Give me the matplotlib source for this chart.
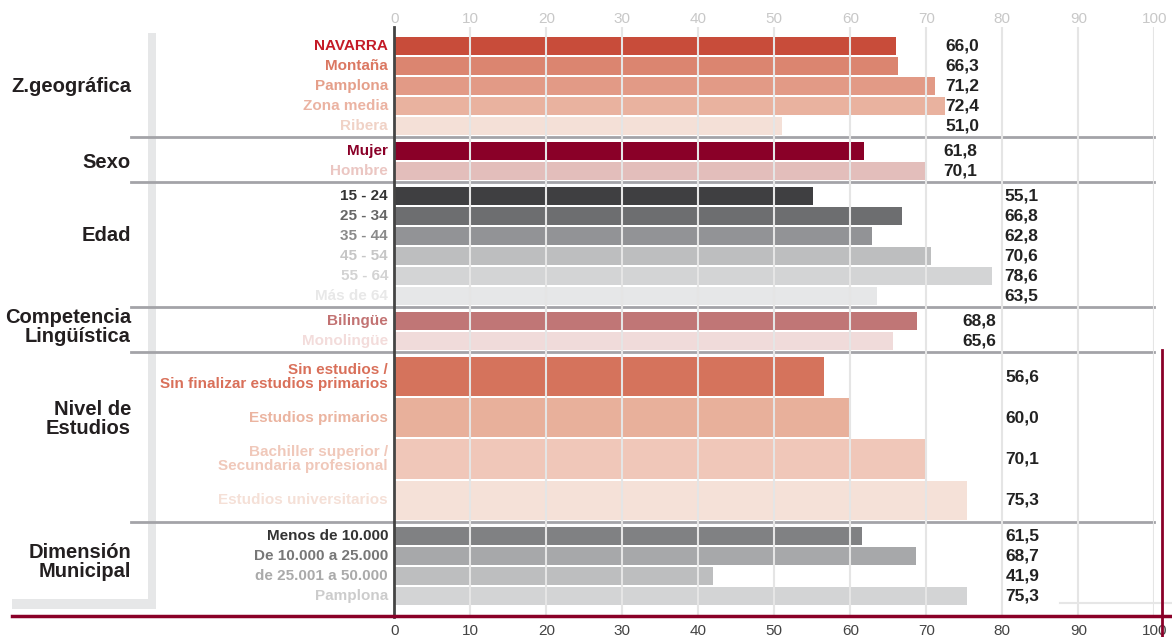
import matplotlib
matplotlib.use('Agg')
import matplotlib.pyplot as plt
from matplotlib import font_manager
from matplotlib.lines import Line2D
from matplotlib.patches import Rectangle
from matplotlib.transforms import blended_transform_factory

names = set(f.name for f in font_manager.fontManager.ttflist)
narrow = 'Liberation Sans Narrow' if 'Liberation Sans Narrow' in names else 'Liberation Sans'
label_size = 13 if narrow == 'Liberation Sans Narrow' else 11
value_size = 13 if narrow == 'Liberation Sans Narrow' else 12.5

# data
zona_labels = ['NAVARRA', 'Montaña', 'Pamplona', 'Zona media', 'Ribera']
zona_values = [66.0, 66.3, 71.2, 72.4, 51.0]
sexo_labels = ['Mujer', 'Hombre']
sexo_values = [61.8, 70.1]
edad_labels = ['15 - 24', '25 - 34', '35 - 44', '45 - 54', '55 - 64', 'Más de 64']
edad_values = [55.1, 66.8, 62.8, 70.6, 78.6, 63.5]
comp_labels = ['Bilingüe', 'Monolingüe']
comp_values = [68.8, 65.6]
estudios_labels = ['Sin estudios /\nSin finalizar estudios primarios', 'Estudios primarios',
                   'Bachiller superior /\nSecundaria profesional', 'Estudios universitarios']
estudios_values = [56.6, 60.0, 70.1, 75.3]
muni_labels = ['Menos de 10.000', 'De 10.000 a 25.000', 'de 25.001 a 50.000', 'Pamplona']
muni_values = [61.5, 68.7, 41.9, 75.3]
group_titles = ['Z.geográfica', 'Sexo', 'Edad', 'Competencia\nLingüística', 'Nivel de\nEstudios',
                'Dimensión\nMunicipal']

# colours
zona_bar = ['#c84c3a', '#db8570', '#e29a86', '#e9b29f', '#f4e0d7']
zona_txt = ['#c41a26', '#db7862', '#e59f8a', '#ebb3a2', '#f0d2c6']
sexo_bar = ['#8a0028', '#e3bebb']
sexo_txt = ['#8a0028', '#ebc6c2']
edad_bar = ['#3f3f41', '#6d6e70', '#929396', '#bdbebf', '#d3d4d5', '#e6e7e8']
edad_txt = ['#333333', '#666666', '#8a8a8a', '#c6c6c6', '#d3d3d3', '#e8e8e8']
comp_bar = ['#c07676', '#f0dbda']
comp_txt = ['#c27272', '#f3dcdb']
estudios_bar = ['#d5735c', '#e8b09b', '#f0c7b9', '#f5e1d8']
estudios_txt = ['#d9705a', '#ebb4a0', '#f0c8ba', '#f5e0d7']
muni_bar = ['#808183', '#a7a8aa', '#bdbebf', '#d3d4d5']
muni_txt = ['#333333', '#777777', '#aaaaaa', '#cccccc']

groups = [
    (zona_labels, zona_values, zona_bar, zona_txt),
    (sexo_labels, sexo_values, sexo_bar, sexo_txt),
    (edad_labels, edad_values, edad_bar, edad_txt),
    (comp_labels, comp_values, comp_bar, comp_txt),
    (estudios_labels, estudios_values, estudios_bar, estudios_txt),
    (muni_labels, muni_values, muni_bar, muni_txt),
]
row_h = [1, 1, 1, 1, 2.06, 1]
value_x = [72.5, 72.2, 80.3, 74.8, 80.4, 80.4]
title_pos = [0.5, 0.55, 0.41, 0.4, 0.38, 0.45]

W, H = 1172, 637
fig = plt.figure(figsize=(W / 100, H / 100), dpi=100)
ax = fig.add_axes([394.3 / W, 20 / H, 760 / W, 590 / H])
ax.set_xlim(0, 100)
ax.set_ylim(29.25, -0.25)

# light grey bracket on the left
fig.add_artist(Rectangle((148 / W, 1 - 609 / H), 8 / W, 576 / H, transform=fig.transFigure,
                         color='#e6e7e8', lw=0, zorder=0))
fig.add_artist(Rectangle((12 / W, 1 - 609 / H), 144 / W, 10 / H, transform=fig.transFigure,
                         color='#e6e7e8', lw=0, zorder=0))

title_tr = blended_transform_factory(fig.transFigure, ax.transData)

y = 0.0
for g, (labels, values, bars, txts) in enumerate(groups):
    h = row_h[g]
    y += 0.2
    start = y
    ys = [y + h * (i + 0.5) for i in range(len(values))]
    ax.barh(ys, values, height=h - 0.1, color=bars, zorder=2)
    for yy, lab, v, c in zip(ys, labels, values, txts):
        ax.annotate(lab, (0, yy), xytext=(-4.5, 0), textcoords='offset points', ha='right',
                    va='center', color=c, fontsize=label_size, fontweight='bold', family=narrow,
                    linespacing=1.0, annotation_clip=False)
        ax.text(value_x[g], yy, ('%.1f' % v).replace('.', ','), ha='left', va='center',
                color='#222222', fontsize=value_size, fontweight='bold', family=narrow, zorder=4)
    y += h * len(values)
    ax.text(131 / W, start + title_pos[g] * (y - start), group_titles[g], transform=title_tr,
            ha='right', va='center', fontsize=14.5, fontweight='bold', family='Liberation Sans',
            color='#231f20', linespacing=1.0)
    y += 0.05
    if g < len(groups) - 1:
        ax.plot([-34.6, 100], [y, y], color='#a3a3a8', lw=2, clip_on=False, zorder=3)

# grid over the bars
ax.vlines(range(10, 101, 10), -0.25, 29.25, color='#e5e5e5', lw=1.5, zorder=3)

for s in ['top', 'right', 'bottom']:
    ax.spines[s].set_visible(False)
ax.spines['left'].set_color('#444444')
ax.spines['left'].set_linewidth(2)
ax.spines['left'].set_zorder(5)
ax.set_yticks([])
ax.set_xticks(range(0, 101, 10))
ax.tick_params(axis='x', length=0, pad=5, labelsize=11, labelcolor='#444444')
for t in ax.get_xticklabels():
    t.set_family('Liberation Sans')

top = ax.secondary_xaxis('top')
top.set_xticks(range(0, 101, 10))
top.tick_params(axis='x', length=0, pad=1, labelsize=11, labelcolor='#c8c8c8')
top.spines['top'].set_visible(False)
for t in top.get_xticklabels():
    t.set_family('Liberation Sans')

# dark red frame lines
fig.add_artist(Line2D([12 / W, 1], [1 - 616 / H, 1 - 616 / H], color='#8a0028', lw=2.5, zorder=6))
fig.add_artist(Line2D([1162 / W, 1162 / W], [0, 1 - 350 / H], color='#8a0028', lw=2, zorder=6))
fig.add_artist(Line2D([1060 / W, 1], [1 - 603 / H, 1 - 603 / H], color='#e6e6e6', lw=1.5, zorder=5))

fig.savefig('out.png', dpi=100)
